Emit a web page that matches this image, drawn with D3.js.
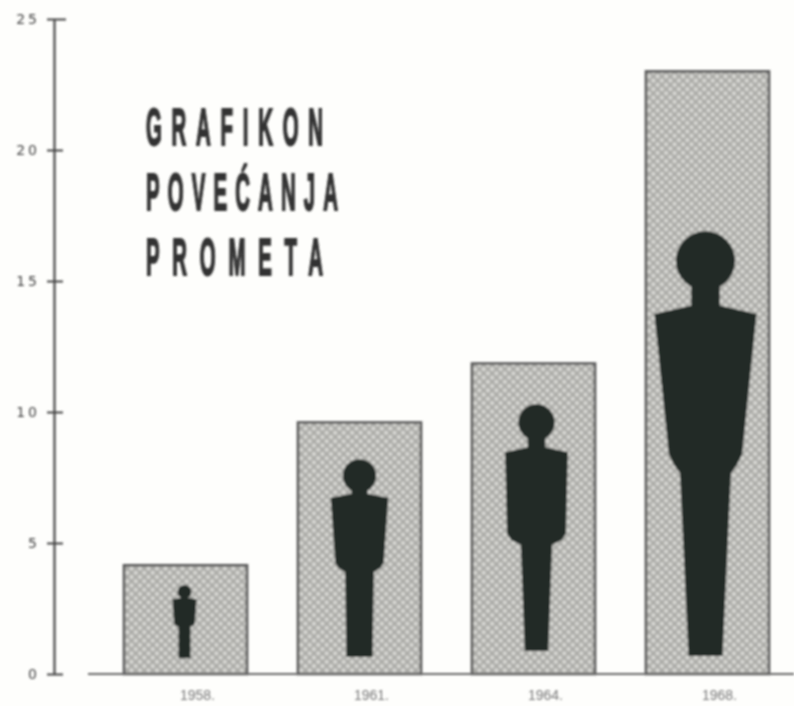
<!DOCTYPE html>
<html>
<head>
<meta charset="utf-8">
<script src="https://cdn.jsdelivr.net/npm/d3@7"></script>
<style>
  html, body { margin: 0; padding: 0; background: #fefefc; }
  svg { display: block; }
  .tick-label { font-family: "DejaVu Sans", sans-serif; fill: #444; }
  .title-line { font-family: "Liberation Sans", sans-serif; font-weight: 700; fill: #333; stroke: #333; stroke-width: 2; }
</style>
</head>
<body>
<svg id="chart" width="794" height="706"></svg>
<script>
// values
const YEARS = ['1958.', '1961.', '1964.', '1968.'];
const VALUES = [4.15, 9.6, 11.85, 23.0];
const Y_TICKS = [0, 5, 10, 15, 20, 25];
const TITLE_LINES = ['GRAFIKON', 'POVEĆANJA', 'PROMETA'];

// figure extents, in the same units as the y axis
const FIGURE_TOPS = [3.4, 8.2, 10.3, 16.9];
const FIGURE_BOTTOMS = [0.6, 0.65, 0.88, 0.69];
const FIGURE_SHOULDERS = [0.92, 2.2, 2.4, 3.9];
const FIGURE_HIPS = [0.8, 1.85, 2.25, 2.8];
const FIGURE_FEET = [0.46, 1.0, 0.9, 1.3];

// right half of the silhouette: t = down the figure, w = share of shoulder width,
// hip = share of hip width
const BODY_OUTLINE = [
  { t: 0.12, w: 0.28 }, { t: 0.175, w: 0.28 }, { t: 0.195, w: 1 },
  { t: 0.525, hip: 1 }, { t: 0.55, hip: 0.86 }, { t: 0.57, w: 0.5 }
];

const svg = d3.select('#chart');
const defs = svg.append('defs');

const soft = defs.append('filter').attr('id', 'soft')
  .attr('filterUnits', 'userSpaceOnUse')
  .attr('x', 0).attr('y', 0).attr('width', 794).attr('height', 706);
soft.append('feGaussianBlur').attr('stdDeviation', 1);

const softer = defs.append('filter').attr('id', 'softer')
  .attr('filterUnits', 'userSpaceOnUse')
  .attr('x', 0).attr('y', 676).attr('width', 794).attr('height', 30);
softer.append('feGaussianBlur').attr('stdDeviation', 1.1);

// halftone screen of the printed bars
const screen = defs.append('pattern').attr('id', 'screen')
  .attr('patternUnits', 'userSpaceOnUse')
  .attr('width', 6).attr('height', 6)
  .attr('patternTransform', 'rotate(45)');
screen.append('rect').attr('width', 6).attr('height', 6).attr('fill', '#acaca8');
screen.append('circle').attr('cx', 3).attr('cy', 3).attr('r', 2.1).attr('fill', '#dbdbd7');

const x = d3.scaleBand().domain(YEARS).range([124, 769]).paddingInner(0.293);
const y = d3.scaleLinear().domain([0, 25]).range([674, 19]);
const unit = y(0) - y(1);
const figureNudge = [-1, 0, 3, -2]; // figures aren't quite centred in their bars

const g = svg.append('g').attr('filter', 'url(#soft)');

// --- bars ---
g.selectAll('rect.bar')
  .data(YEARS)
  .join('rect')
  .attr('class', 'bar')
  .attr('x', d => x(d))
  .attr('y', (d, i) => y(VALUES[i]))
  .attr('width', x.bandwidth())
  .attr('height', (d, i) => y(0) - y(VALUES[i]))
  .attr('fill', 'url(#screen)')
  .attr('stroke', '#5a5a5a')
  .attr('stroke-width', 2.6);

// --- figures ---
YEARS.forEach((year, i) => {
  const cx = x(year) + x.bandwidth() / 2 + figureNudge[i];
  const top = y(FIGURE_TOPS[i]);
  const bottom = y(FIGURE_BOTTOMS[i]);
  const half = FIGURE_SHOULDERS[i] * unit / 2;
  const hipHalf = FIGURE_HIPS[i] * unit / 2;
  const foot = FIGURE_FEET[i] * unit / 2;
  const py = d3.scaleLinear().domain([0, 1]).range([top, bottom]);
  const right = BODY_OUTLINE
    .map(p => [cx + (p.hip ? p.hip * hipHalf : p.w * half), py(p.t)])
    .concat([[cx + foot, py(1)]]);
  const left = right.map(p => [2 * cx - p[0], p[1]]).reverse();
  const figure = g.append('g').attr('fill', '#232a26');
  figure.append('path').attr('d', d3.line()(right.concat(left)) + 'Z');
  figure.append('circle')
    .attr('cx', cx).attr('cy', top + 0.58 * half).attr('r', 0.58 * half);
});

// --- axes ---
const yAxis = g.append('g')
  .attr('transform', 'translate(54,0)')
  .call(d3.axisLeft(y).tickValues(Y_TICKS).tickSize(0).tickPadding(14));
yAxis.select('.domain').attr('stroke', '#555').attr('stroke-width', 2.4);
yAxis.selectAll('.tick line')
  .attr('x1', -7).attr('x2', d => d === 25 ? 12 : 9)
  .attr('stroke', '#444').attr('stroke-width', 2);
yAxis.selectAll('.tick text')
  .attr('class', 'tick-label')
  .attr('font-size', 14)
  .attr('letter-spacing', 3)
  .attr('fill', null);

g.append('line')
  .attr('x1', 88).attr('x2', 794)
  .attr('y1', y(0)).attr('y2', y(0))
  .attr('stroke', '#666').attr('stroke-width', 2);

// --- year labels ---
svg.append('g').attr('filter', 'url(#softer)')
  .selectAll('text')
  .data(YEARS)
  .join('text')
  .attr('x', d => x(d) + x.bandwidth() / 2 + 12)
  .attr('y', 700)
  .attr('text-anchor', 'middle')
  .attr('font-family', '"Liberation Sans", sans-serif')
  .attr('font-size', 14)
  .attr('fill', '#777')
  .text(d => d);

// --- title, stretched tall and spaced out ---
const TITLE_SQUEEZE = 0.4;
g.append('g').selectAll('text')
  .data(TITLE_LINES)
  .join('text')
  .attr('class', 'title-line')
  .attr('transform', (d, i) => `translate(146,${145 + i * 65}) scale(${TITLE_SQUEEZE},1)`)
  .attr('font-size', 51)
  .attr('textLength', d => (d.length === 9 ? 192 : 177) / TITLE_SQUEEZE)
  .attr('lengthAdjust', 'spacing')
  .text(d => d);
</script>
</body>
</html>
